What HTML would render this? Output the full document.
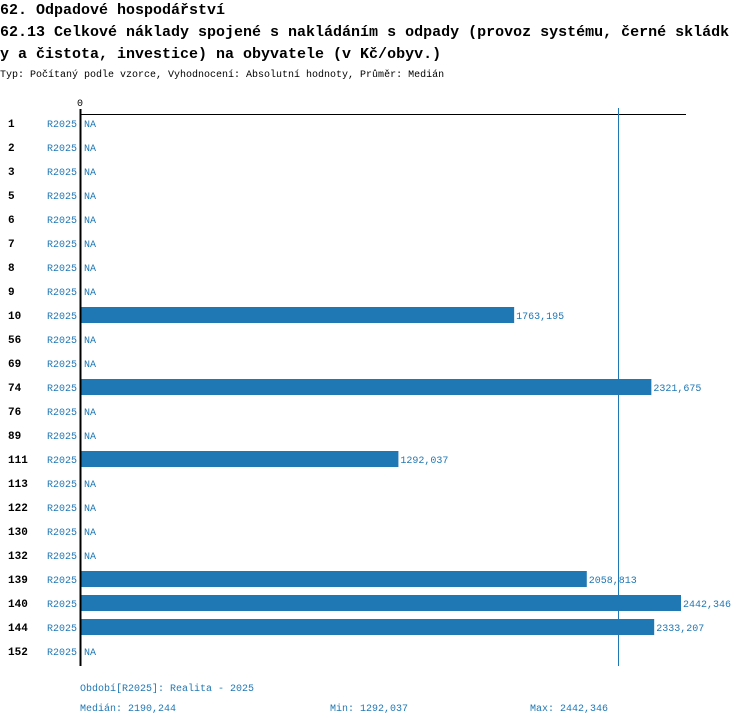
<!DOCTYPE html>
<html><head><meta charset="utf-8">
<style>
body{margin:0;background:#fff;}
svg{display:block;font-family:"Liberation Mono",monospace;}
</style></head>
<body>
<svg id="chart" width="750" height="726">
<text x="0" y="14" font-size="15" font-weight="bold">62. Odpadové hospodářství</text>
<text x="0" y="36" font-size="15" font-weight="bold">62.13 Celkové náklady spojené s nakládáním s odpady (provoz systému, černé skládk</text>
<text x="0" y="58" font-size="15" font-weight="bold">y a čistota, investice) na obyvatele (v Kč/obyv.)</text>
<text x="0" y="77" font-size="10">Typ: Počítaný podle vzorce, Vyhodnocení: Absolutní hodnoty, Průměr: Medián</text>
<text x="80" y="106" font-size="10" text-anchor="middle">0</text>
<line x1="80" y1="114.5" x2="686" y2="114.5" stroke="#000" stroke-width="1"/>
<g id="bars"></g>
<line id="median" y1="108" y2="666" stroke="#1f77b4" stroke-width="1"/>
<line x1="80.5" y1="109" x2="80.5" y2="666" stroke="#000" stroke-width="2"/>
<text x="80" y="691" font-size="10" fill="#1f77b4">Období[R2025]: Realita - 2025</text>
<text id="medTxt" x="80" y="711" font-size="10" fill="#1f77b4"></text>
<text id="minTxt" x="330" y="711" font-size="10" fill="#1f77b4"></text>
<text id="maxTxt" x="530" y="711" font-size="10" fill="#1f77b4"></text>
</svg>
<script>
const categories=["1","2","3","5","6","7","8","9","10","56","69","74","76","89","111","113","122","130","132","139","140","144","152"];
const values=[null,null,null,null,null,null,null,null,1763.195,null,null,2321.675,null,null,1292.037,null,null,null,null,2058.813,2442.346,2333.207,null];
const medianValue=2190.244;
const minValue=1292.037;
const maxValue=2442.346;
const NS="http://www.w3.org/2000/svg";
const x0=81, scale=600/2442.346;
const xs=v=>x0+v*scale;
const yc=i=>122+24*i;
const fmt=v=>v.toFixed(3).replace('.',',');
const g=document.getElementById('bars');
function t(x,y,s,attrs){const e=document.createElementNS(NS,'text');e.setAttribute('x',x);e.setAttribute('y',y);for(const k in attrs)e.setAttribute(k,attrs[k]);e.textContent=s;g.appendChild(e);return e;}
categories.forEach((c,i)=>{
  const y=yc(i);
  const a=t(8,y+5,c,{'font-size':'11','font-weight':'bold'});
  
  
  const b=t(47,y+5,'R2025',{'font-size':'10','fill':'#1f77b4'});
  
  
  const v=values[i];
  if(v==null){
    const n=t(84,y+5,'NA',{'font-size':'10','fill':'#1f77b4'});
    
    
  } else {
    const r=document.createElementNS(NS,'rect');
    r.setAttribute('x',x0);r.setAttribute('y',y-7);r.setAttribute('width',xs(v)-x0);r.setAttribute('height',16);r.setAttribute('fill','#1f77b4');
    
    
    g.appendChild(r);
    const l=t(xs(v)+2,y+5,fmt(v),{'font-size':'10','fill':'#1f77b4'});
    
    
  }
});
const m=document.getElementById('median');
m.setAttribute('x1',Math.round(xs(medianValue))-0.5);m.setAttribute('x2',Math.round(xs(medianValue))-0.5);
document.getElementById('medTxt').textContent='Medián: '+fmt(medianValue);
document.getElementById('minTxt').textContent='Min: '+fmt(minValue);
document.getElementById('maxTxt').textContent='Max: '+fmt(maxValue);
</script>
</body></html>
